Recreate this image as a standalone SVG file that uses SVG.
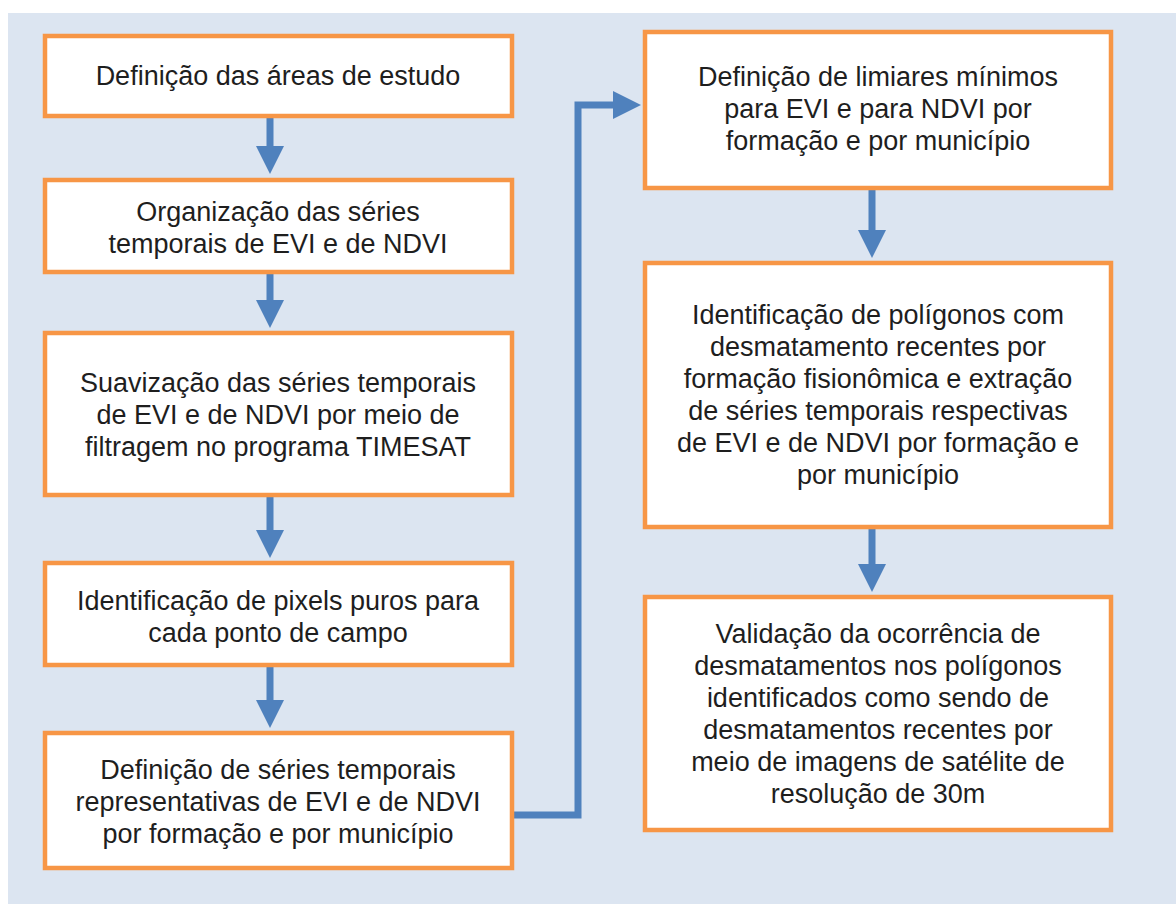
<svg xmlns="http://www.w3.org/2000/svg" width="1176" height="904" viewBox="0 0 1176 904">
<defs>
<marker id="ah" markerWidth="4" markerHeight="4" refX="2" refY="2" orient="auto" markerUnits="strokeWidth">
<path d="M0,0 L4,2 L0,4 z" fill="#4F81BD"/>
</marker>
<style>
.box{fill:#fff;stroke:#F79646;stroke-width:4.5}
.t{font-family:"Liberation Sans",Arial,sans-serif;font-size:27px;fill:#1e1e1e;text-anchor:middle}
.c{fill:none;stroke:#4F81BD;stroke-width:7}
</style>
</defs>
<rect width="1176" height="904" fill="#fff"/>
<rect x="8" y="13" width="1168" height="891" fill="#DCE5F1"/>
<g id="connectors">
<path class="c" d="M270,118 V160" marker-end="url(#ah)"/>
<path class="c" d="M270,274 V314" marker-end="url(#ah)"/>
<path class="c" d="M270,497 V544" marker-end="url(#ah)"/>
<path class="c" d="M270,667 V714" marker-end="url(#ah)"/>
<path class="c" d="M872,190 V244" marker-end="url(#ah)"/>
<path class="c" d="M872,529 V578" marker-end="url(#ah)"/>
<path class="c" d="M512,815 H578 V105 H627" marker-end="url(#ah)"/>
</g>
<g id="n1"><rect class="box" x="45" y="36" width="467" height="80"/>
<text class="t" x="278" y="85">Definição das áreas de estudo</text></g>
<g id="n2"><rect class="box" x="45" y="180" width="467" height="92"/>
<text class="t" x="278" y="221">Organização das séries</text>
<text class="t" x="278" y="253">temporais de EVI e de NDVI</text></g>
<g id="n3"><rect class="box" x="45" y="333" width="467" height="162"/>
<text class="t" x="278" y="392">Suavização das séries temporais</text>
<text class="t" x="278" y="424">de EVI e de NDVI por meio de</text>
<text class="t" x="278" y="456">filtragem no programa TIMESAT</text></g>
<g id="n4"><rect class="box" x="45" y="563" width="467" height="102"/>
<text class="t" x="278" y="610">Identificação de pixels puros para</text>
<text class="t" x="278" y="642">cada ponto de campo</text></g>
<g id="n5"><rect class="box" x="45" y="733" width="467" height="135"/>
<text class="t" x="278" y="779">Definição de séries temporais</text>
<text class="t" x="278" y="811">representativas de EVI e de NDVI</text>
<text class="t" x="278" y="843">por formação e por município</text></g>
<g id="n6"><rect class="box" x="645" y="32" width="466" height="156"/>
<text class="t" x="878" y="86">Definição de limiares mínimos</text>
<text class="t" x="878" y="118">para EVI e para NDVI por</text>
<text class="t" x="878" y="150">formação e por município</text></g>
<g id="n7"><rect class="box" x="645" y="263" width="466" height="264"/>
<text class="t" x="878" y="324">Identificação de polígonos com</text>
<text class="t" x="878" y="356">desmatamento recentes por</text>
<text class="t" x="878" y="388">formação fisionômica e extração</text>
<text class="t" x="878" y="420">de séries temporais respectivas</text>
<text class="t" x="878" y="452">de EVI e de NDVI por formação e</text>
<text class="t" x="878" y="484">por município</text></g>
<g id="n8"><rect class="box" x="645" y="597" width="466" height="233"/>
<text class="t" x="878" y="643">Validação da ocorrência de</text>
<text class="t" x="878" y="675">desmatamentos nos polígonos</text>
<text class="t" x="878" y="707">identificados como sendo de</text>
<text class="t" x="878" y="739">desmatamentos recentes por</text>
<text class="t" x="878" y="771">meio de imagens de satélite de</text>
<text class="t" x="878" y="803">resolução de 30m</text></g>
</svg>
